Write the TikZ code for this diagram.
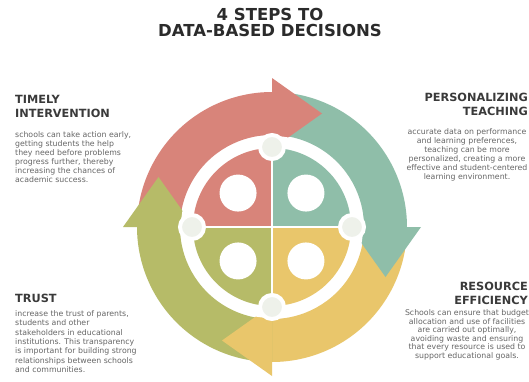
\documentclass[tikz,border=0pt]{standalone}
\usepackage{fontspec}
\setmainfont{DejaVu Sans}
\usetikzlibrary{calc}

\definecolor{cred}{HTML}{D8847A}
\definecolor{cteal}{HTML}{8FBEA9}
\definecolor{cyellow}{HTML}{E9C66B}
\definecolor{cgreen}{HTML}{B6BB68}
\definecolor{knobfill}{HTML}{EEF1EA}
\definecolor{titlegray}{HTML}{2B2B2B}
\definecolor{headgray}{HTML}{3A3A3A}
\definecolor{bodygray}{HTML}{666666}

\tikzset{
  titletext/.style={font=\bfseries\fontsize{16.5}{16}\selectfont, text=titlegray, inner sep=0, align=center},
  heading/.style={font=\bfseries\fontsize{11.3}{14}\selectfont, text=headgray, inner sep=0},
  body/.style={font=\fontsize{7.8}{9}\selectfont, text=bodygray, inner sep=0},
  knob/.style={fill=knobfill, draw=white, line width=4pt},
}

\begin{document}
\begin{tikzpicture}[x=1pt,y=1pt]
\useasboundingbox (0,0) rectangle (529,381);
\fill[white] (0,0) rectangle (529,381);

\coordinate (c) at (272,154);

% curved arrow bands, clockwise, each ending where its head starts
\foreach \col/\e in {cred/90, cteal/0, cyellow/-90, cgreen/-180}{
  \pgfmathsetmacro\sa{\e+90}
  \pgfmathsetmacro\ea{\e-1}
  \pgfmathsetmacro\ia{\e+179}
  \fill[\col] (c) ++(\sa:135) arc[start angle=\sa, end angle=\ea, radius=135]
     -- ++(\ia:43) arc[start angle=\ea, end angle=\sa, radius=92] -- cycle;
}
% arrow heads, tangent to the ring
\foreach \col/\e in {cred/90, cteal/0, cyellow/-90, cgreen/-180}{
  \pgfmathsetmacro\ta{\e-90}
  \fill[\col] ($(c)+(\e:78)$) -- ($(c)+(\e:149)$) -- ($(c)+(\e:113.5)+(\ta:50)$) -- cycle;
}

% inner disc with four quadrants
\fill[white] (c) circle[radius=91];
\foreach \col/\a in {cteal/0, cred/90, cgreen/180, cyellow/270}{
  \pgfmathsetmacro\b{\a+90}
  \pgfmathsetmacro\h{\a+45}
  \fill[\col] (c) -- ++(\a:79) arc[start angle=\a, end angle=\b, radius=79] -- cycle;
  \fill[white] ($(c)+(\h:48)$) circle[radius=18.5];
}
\foreach \a in {0,90,180,270}{
  \draw[white, line width=1.2pt] (c) -- ++(\a:80);
}
% notches where the quadrants meet the ring
\foreach \a in {0,90,180,270}{
  \path[knob] ($(c)+(\a:80)$) circle[radius=12];
}

% title
\node[titletext, anchor=base] (title) at (270,344) {4 STEPS TO\\DATA-BASED DECISIONS};

% left column
\node[heading, anchor=base west, align=left] (h1) at (15,264) {TIMELY\\INTERVENTION};
\node[body, anchor=base west, align=left] (b1) at (15,198.5)
  {schools can take action early,\\getting students the help\\they need before problems\\progress further, thereby\\increasing the chances of\\academic success.};

\node[heading, anchor=base west, align=left] (h4) at (15,79) {TRUST};
\node[body, anchor=base west, align=left, font=\fontsize{7.8}{9.3}\selectfont] (b4) at (15,8.7)
  {increase the trust of parents,\\students and other\\stakeholders in educational\\institutions. This transparency\\is important for building strong\\relationships between schools\\and communities.};

% right column
\node[heading, anchor=base east, align=right] (h2) at (528,265.5) {PERSONALIZING\\TEACHING};
\node[body, anchor=base, align=center] (b2) at (467,201.5)
  {accurate data on performance\\and learning preferences,\\teaching can be more\\personalized, creating a more\\effective and student-centered\\learning environment.};

\node[heading, anchor=base east, align=right, font=\bfseries\fontsize{11.3}{13.5}\selectfont] (h3) at (528,77) {RESOURCE\\EFFICIENCY};
\node[body, anchor=base, align=center, font=\fontsize{7.8}{8.6}\selectfont] (b3) at (467,22.5)
  {Schools can ensure that budget\\allocation and use of facilities\\are carried out optimally,\\avoiding waste and ensuring\\that every resource is used to\\support educational goals.};
\end{tikzpicture}
\end{document}
